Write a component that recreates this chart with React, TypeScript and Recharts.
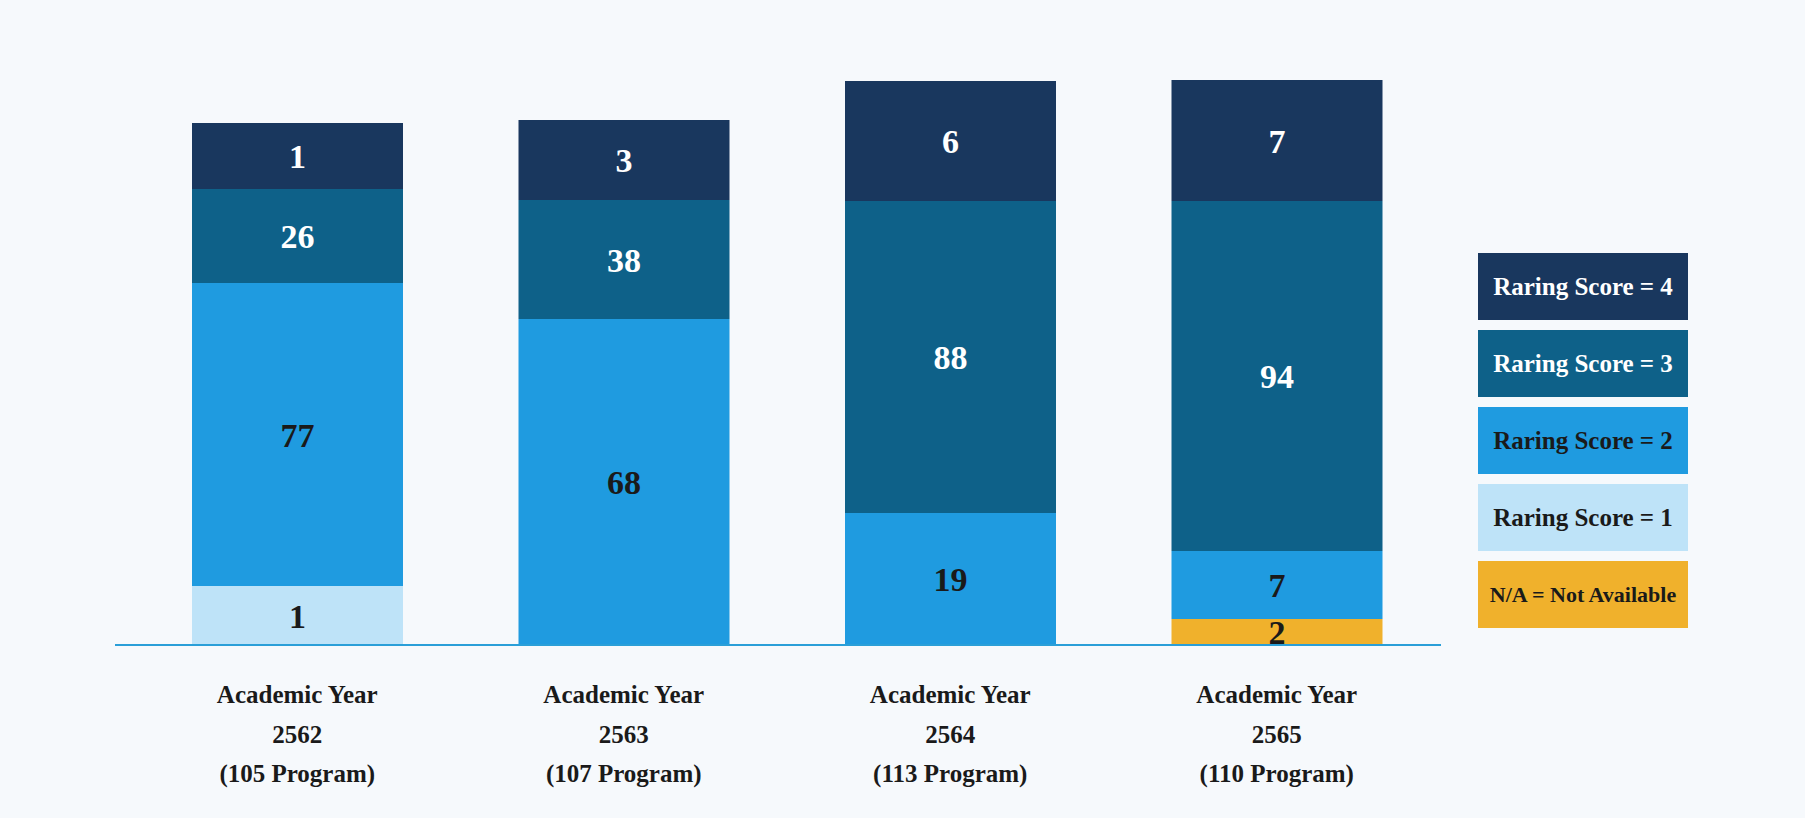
import React from 'react';
import { BarChart, Bar, XAxis, YAxis, LabelList, Legend } from 'recharts';

// categories
const years = ['2562', '2563', '2564', '2565'];
const programs = ['(105 Program)', '(107 Program)', '(113 Program)', '(110 Program)'];

// counts printed inside each segment
const score4Count = [1, 3, 6, 7];
const score3Count = [26, 38, 88, 94];
const score2Count = [77, 68, 19, 7];
const score1Count = [1, null, null, null];
const naCount = [null, null, null, 2];

// segment lengths as drawn in the picture (the original is not to scale)
const score4Drawn = [13.2, 16.0, 24.0, 24.2];
const score3Drawn = [18.8, 23.8, 62.4, 70.0];
const score2Drawn = [60.6, 65.2, 26.4, 13.6];
const score1Drawn = [11.8, 0, 0, 0];
const naDrawn = [0, 0, 0, 5.2];

const FONT = '"Liberation Serif", "Times New Roman", Times, serif';

const data = years.map((y, i) => ({
  year: y,
  program: programs[i],
  na: naDrawn[i],
  s1: score1Drawn[i],
  s2: score2Drawn[i],
  s3: score3Drawn[i],
  s4: score4Drawn[i],
  naC: naCount[i],
  s1C: score1Count[i],
  s2C: score2Count[i],
  s3C: score3Count[i],
  s4C: score4Count[i],
}));

// bottom to top
const series = [
  { key: 'na', label: 'N/A = Not Available', color: '#f0b12c', text: '#1a1a1a', legendSize: 22 },
  { key: 's1', label: 'Raring Score = 1', color: '#bee3f8', text: '#1a1a1a', legendSize: 25 },
  { key: 's2', label: 'Raring Score = 2', color: '#1f9be0', text: '#1a1a1a', legendSize: 25 },
  { key: 's3', label: 'Raring Score = 3', color: '#0e6189', text: '#ffffff', legendSize: 25 },
  { key: 's4', label: 'Raring Score = 4', color: '#19375e', text: '#ffffff', legendSize: 25 },
];

function YearTick(props: any) {
  const { x, y, payload, index } = props;
  return (
    <text x={x} y={y} textAnchor="middle" fontFamily={FONT} fontWeight="bold" fontSize={25} fill="#1a1a1a">
      <tspan x={x} dy={50}>Academic Year</tspan>
      <tspan x={x} dy={40}>{payload.value}</tspan>
      <tspan x={x} dy={39}>{programs[index]}</tspan>
    </text>
  );
}

function makeLabel(color: string) {
  return (props: any) => {
    const { x, y, width, height, value } = props;
    if (value == null) return null;
    return (
      <text
        x={x + width / 2}
        y={y + height / 2}
        dy={12}
        textAnchor="middle"
        fontFamily={FONT}
        fontWeight="bold"
        fontSize={34}
        fill={color}
      >
        {value}
      </text>
    );
  };
}

function LegendBoxes() {
  const items = [...series].reverse();
  return (
    <div style={{ width: 210 }}>
      {items.map((s) => (
        <div
          key={s.key}
          style={{
            height: 67,
            marginBottom: 10,
            background: s.color,
            color: s.text,
            fontFamily: FONT,
            fontWeight: 'bold',
            fontSize: s.legendSize,
            display: 'flex',
            alignItems: 'center',
            justifyContent: 'center',
            whiteSpace: 'nowrap',
          }}
        >
          {s.label}
        </div>
      ))}
    </div>
  );
}

export default function App() {
  return (
    <div style={{ position: 'absolute', left: 0, top: 0, width: 1805, height: 818, background: '#f6f9fc' }}>
      <BarChart
        width={1805}
        height={818}
        data={data}
        margin={{ top: 45, right: 364, bottom: 43, left: 115 }}
        barCategoryGap={0}
      >
        <XAxis
          dataKey="year"
          tick={<YearTick />}
          tickLine={false}
          axisLine={{ stroke: '#2a9fd8', strokeWidth: 2 }}
          height={130}
          interval={0}
          padding={{ left: 19, right: 1 }}
        />
        <YAxis hide domain={[0, 120]} />
        <Legend
          layout="horizontal"
          verticalAlign="middle"
          align="center"
          content={<LegendBoxes />}
          wrapperStyle={{ left: 1478, top: 253, width: 210 }}
        />
        {series.map((s) => (
          <Bar key={s.key} dataKey={s.key} stackId="a" fill={s.color} barSize={211} isAnimationActive={false}>
            <LabelList dataKey={s.key + 'C'} content={makeLabel(s.text)} />
          </Bar>
        ))}
      </BarChart>
    </div>
  );
}
